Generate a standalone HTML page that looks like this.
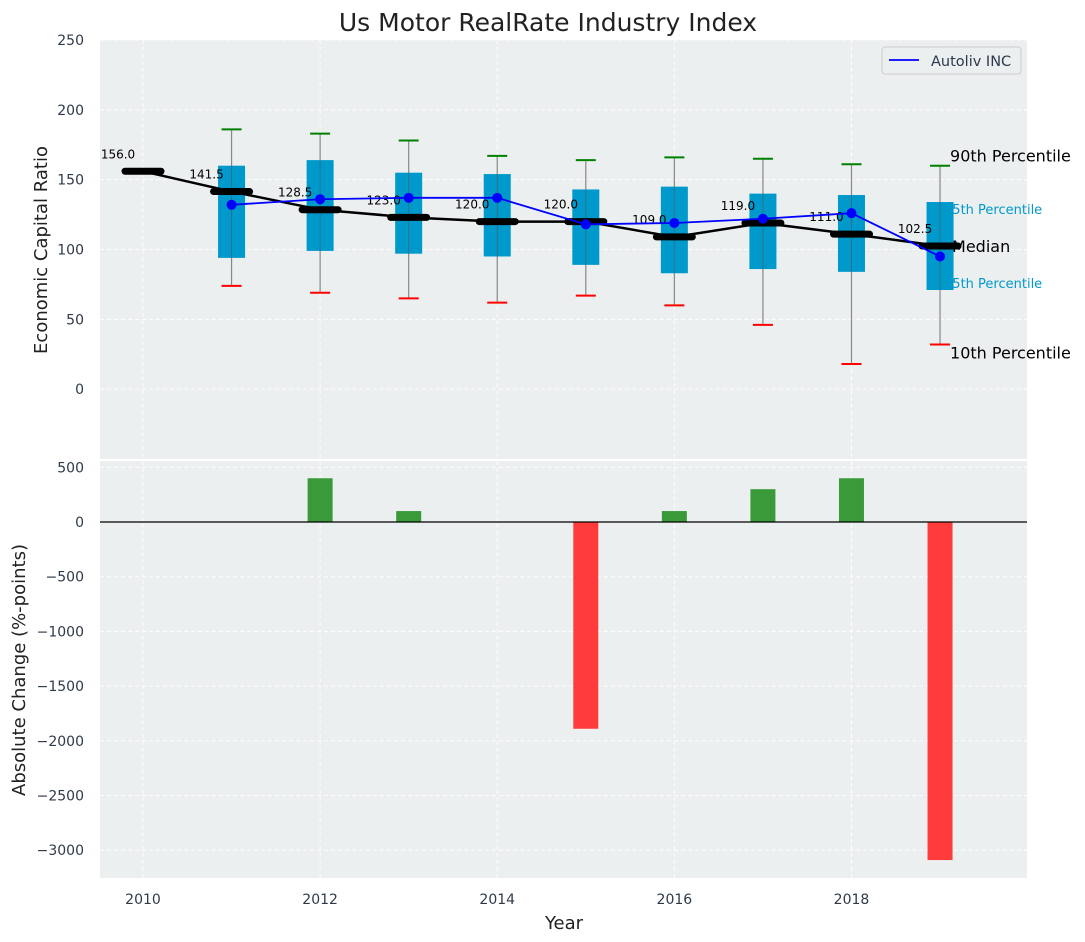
<!DOCTYPE html>
<html><head><meta charset="utf-8"><style>
body{margin:0;background:#fff;}
svg{display:block;font-family:"DejaVu Sans","Liberation Sans",sans-serif;}
</style></head><body>
<svg id="chart" width="1085" height="942"></svg>
<script>
const years=[2010,2011,2012,2013,2014,2015,2016,2017,2018,2019];
const medians=[156,141.5,128.5,123,120,120,109,119,111,102.5];
const p90=[null,186,183,178,167,164,166,165,161,160];
const p10=[null,74,69,65,62,67,60,46,18,32];
const p75=[null,160,164,155,154,143,145,140,139,134];
const p25=[null,94,99,97,95,89,83,86,84,71];
const autoliv=[null,132,136,137,137,118,119,122,126,95];
const changeYears=[2012,2013,2015,2016,2017,2018,2019];
const changes=[400,100,-1890,100,300,400,-3090];
const topTicks=[0,50,100,150,200,250];
const botTicks=[500,0,-500,-1000,-1500,-2000,-2500,-3000];
const xTicks=[2010,2012,2014,2016,2018];

const NS="http://www.w3.org/2000/svg";
const svg=document.getElementById('chart');
function el(tag,attrs,parent){const e=document.createElementNS(NS,tag);for(const k in attrs)e.setAttribute(k,attrs[k]);(parent||svg).appendChild(e);return e;}
const L=100,R=1027;
const x=v=>143+(v-2010)*88.56;
const yT=v=>40+(250-v)*(459-40)/300;
const yB=v=>522-v*54.7/500;

let bg1=el('rect',{x:L,y:40,width:R-L,height:419,fill:'#ebeff0'});

let bg2=el('rect',{x:L,y:461,width:R-L,height:417,fill:'#ebeff0'});


const grid=el('g',{stroke:'#fff','stroke-dasharray':'4,3','stroke-width':1,opacity:0.9});

xTicks.forEach(t=>{el('line',{x1:x(t),x2:x(t),y1:40,y2:459},grid);el('line',{x1:x(t),x2:x(t),y1:461,y2:878},grid);});
topTicks.forEach(t=>el('line',{x1:L,x2:R,y1:yT(t),y2:yT(t)},grid));
botTicks.forEach(t=>el('line',{x1:L,x2:R,y1:yB(t),y2:yB(t)},grid));

topTicks.forEach(t=>{const e=el('text',{x:84,y:yT(t)+5,'text-anchor':'end','font-size':14,fill:'#2e3a4a'});e.textContent=t;
});
botTicks.forEach(t=>{const e=el('text',{x:84,y:yB(t)+5,'text-anchor':'end','font-size':14,fill:'#2e3a4a'});e.textContent=t<0?'\u2212'+(-t):t;
});
xTicks.forEach(t=>{const e=el('text',{x:x(t),y:904,'text-anchor':'middle','font-size':14,fill:'#2e3a4a'});e.textContent=t;
});

const last=years.length-1, ax=x(2019)+10;
[[p90[last],'90th Percentile',16,'#000',-4,0],[p75[last],'75th Percentile',13,'#0099cc',12,-6],[medians[last],'Median',16,'#000',6,2],[p25[last],'25th Percentile',13,'#0099cc',-2,-6],[p10[last],'10th Percentile',16,'#000',14,0]].forEach(a=>{
 const e=el('text',{x:ax+a[5],y:yT(a[0])+a[4],'font-size':a[2],fill:a[3]});e.textContent=a[1];
 });

years.forEach((yr,i)=>{
 if(p90[i]==null)return;
 const g=el('g',{});
 el('line',{x1:x(yr),x2:x(yr),y1:yT(p90[i]),y2:yT(p10[i]),stroke:'#888','stroke-width':1.2},g);
 el('rect',{x:x(yr)-13.5,y:yT(p75[i]),width:27,height:yT(p25[i])-yT(p75[i]),fill:'#0099cc'},g);
 el('line',{x1:x(yr),x2:x(yr),y1:yT(p75[i]),y2:yT(p25[i]),stroke:'#555','stroke-width':1,opacity:0.6},g);
 el('line',{x1:x(yr)-10,x2:x(yr)+10,y1:yT(p90[i]),y2:yT(p90[i]),stroke:'green','stroke-width':2},g);
 el('line',{x1:x(yr)-10,x2:x(yr)+10,y1:yT(p10[i]),y2:yT(p10[i]),stroke:'red','stroke-width':2},g);
});

let mp=years.map((yr,i)=>x(yr)+','+yT(medians[i])).join(' ');
let ml=el('polyline',{points:mp,fill:'none',stroke:'#000','stroke-width':2.5});

years.forEach((yr,i)=>{
 const s=el('line',{x1:x(yr)-18,x2:x(yr)+18,y1:yT(medians[i]),y2:yT(medians[i]),stroke:'#000','stroke-width':7,'stroke-linecap':'round'});
 
 const t=el('text',{x:x(yr)-25,y:yT(medians[i])-13,'text-anchor':'middle','font-size':12,fill:'#000'});t.textContent=medians[i].toFixed(1);
 
});

const ai=years.map((y,i)=>i).filter(i=>autoliv[i]!=null);
let al=el('polyline',{points:ai.map(i=>x(years[i])+','+yT(autoliv[i])).join(' '),fill:'none',stroke:'#0000ff','stroke-width':1.8});

ai.forEach(i=>{const c=el('circle',{cx:x(years[i]),cy:yT(autoliv[i]),r:5,fill:'#0000ff'});
 });

const lg=el('g',{});
el('rect',{x:882,y:47,width:139,height:27,rx:3,fill:'#ebeff0',stroke:'#ccc'},lg);
el('line',{x1:889,x2:919,y1:60,y2:60,stroke:'#0000ff','stroke-width':1.8},lg);
let lt=el('text',{x:931,y:66,'font-size':14.5,fill:'#2e3a4a'},lg);lt.textContent='Autoliv INC';

changeYears.forEach((yr,i)=>{
 const v=changes[i];
 const b=el('rect',{x:x(yr)-12.5,y:Math.min(yB(v),yB(0)),width:25,height:Math.abs(yB(v)-yB(0)),fill:v>=0?'#3a9a3a':'#ff3b3b'});
 
});
let zl=el('line',{x1:L,x2:R,y1:yB(0),y2:yB(0),stroke:'#000','stroke-width':1.2});


let t1=el('text',{x:548,y:31,'text-anchor':'middle','font-size':25,fill:'#222'});t1.textContent='Us Motor RealRate Industry Index';

let t2=el('text',{x:0,y:0,'text-anchor':'middle','font-size':18,fill:'#222',transform:'translate(47,250) rotate(-90)'});t2.textContent='Economic Capital Ratio';

let t3=el('text',{x:0,y:0,'text-anchor':'middle','font-size':18,fill:'#222',transform:'translate(25,670) rotate(-90)'});t3.textContent='Absolute Change (%-points)';

let t4=el('text',{x:564,y:929,'text-anchor':'middle','font-size':18,fill:'#222'});t4.textContent='Year';

</script>
</body></html>
